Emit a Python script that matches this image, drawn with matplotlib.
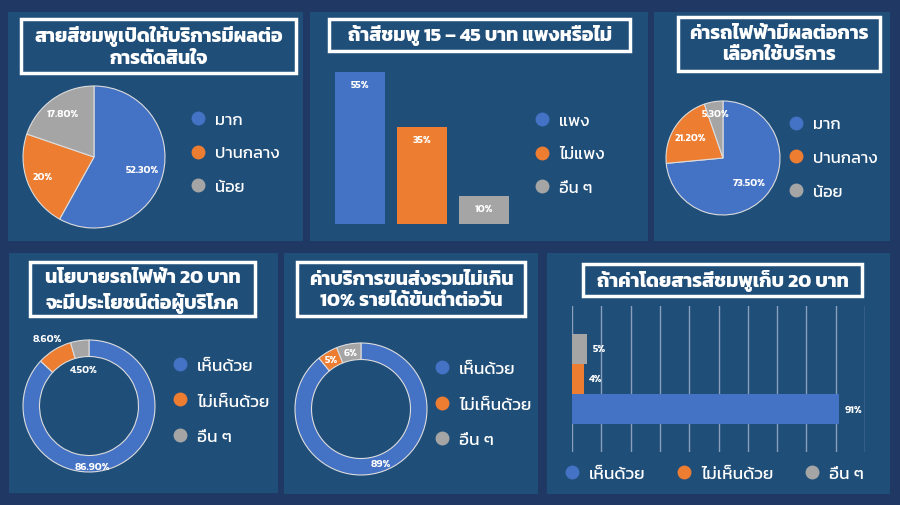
import matplotlib
matplotlib.use('Agg')
import matplotlib.pyplot as plt
from matplotlib.patches import Rectangle
from matplotlib.lines import Line2D

plt.rcParams['font.family'] = ['Kanit', 'Prompt', 'Bai Jamjuree', 'DejaVu Sans']

# --- data ---
level_labels = ['มาก', 'ปานกลาง', 'น้อย']
agree_labels = ['เห็นด้วย', 'ไม่เห็นด้วย', 'อื่น ๆ']
price_labels = ['แพง', 'ไม่แพง', 'อื่น ๆ']

pink_open_values = [52.3, 20, 17.8]
pink_open_text = ['52.30%', '20%', '17.80%']

pink_price_values = [55, 35, 10]
pink_price_text = ['55%', '35%', '10%']

fare_values = [73.5, 21.2, 5.3]
fare_text = ['73.50%', '21.20%', '5.30%']

policy_values = [86.9, 8.6, 4.5]
policy_text = ['86.90%', '8.60%', '4.50%']

transport_values = [89, 5, 6]
transport_text = ['89%', '5%', '6%']

fare20_values = [91, 4, 5]
fare20_text = ['91%', '4%', '5%']

titles = [
    'สายสีชมพูเปิดให้บริการมีผลต่อ\nการตัดสินใจ',
    'ถ้าสีชมพู 15 – 45 บาท แพงหรือไม่',
    'ค่ารถไฟฟ้ามีผลต่อการ\nเลือกใช้บริการ',
    'นโยบายรถไฟฟ้า 20 บาท\nจะมีประโยชน์ต่อผู้บริโภค',
    'ค่าบริการขนส่งรวมไม่เกิน\n10% รายได้ขั้นต่ำต่อวัน',
    'ถ้าค่าโดยสารสีชมพูเก็บ 20 บาท',
]

colors = ['#4472c4', '#ed7d31', '#a5a5a5']
outer_bg = '#203864'
panel_bg = '#1f4e79'

W, H = 900, 506
fig = plt.figure(figsize=(W / 100, H / 100), dpi=100, facecolor=outer_bg)


def fbox(x0, y0, x1, y1):
    """pixel box (top-left origin) -> figure fraction rect"""
    return [x0 / W, 1 - y1 / H, (x1 - x0) / W, (y1 - y0) / H]


def panel(x0, y0, x1, y1):
    fig.add_artist(Rectangle(fbox(x0, y0, x1, y1)[:2], (x1 - x0) / W, (y1 - y0) / H,
                             transform=fig.transFigure, facecolor=panel_bg,
                             edgecolor='none', zorder=-2))


def title_box(x0, y0, x1, y1, text, dy=0):
    fig.add_artist(Rectangle(fbox(x0, y0, x1, y1)[:2], (x1 - x0) / W, (y1 - y0) / H,
                             transform=fig.transFigure, facecolor='none',
                             edgecolor='white', lw=2.5, zorder=2))
    fig.text((x0 + x1) / 2 / W, 1 - ((y0 + y1) / 2 + dy) / H, text, ha='center',
             va='center', color='white', fontsize=14, fontweight='bold',
             linespacing=1.38, zorder=3)


def legend(ax, labels, mx, my, ncol=1, fs=12):
    handles = [Line2D([], [], ls='', marker='o', ms=9, color=c) for c in colors]
    hl = 1.0
    x = (mx - hl * fs * 100 / 72 / 2) / W
    ax.legend(handles, labels, loc='center left', bbox_to_anchor=(x, 1 - my / H),
              bbox_transform=fig.transFigure, frameon=False, fontsize=fs,
              handlelength=hl, handletextpad=0.5, labelspacing=1.15,
              borderpad=0, borderaxespad=0, numpoints=1, labelcolor='white',
              ncol=ncol, columnspacing=1.7)


def pie_axes(cx, cy, r):
    ax = fig.add_axes(fbox(cx - r, cy - r, cx + r, cy + r))
    ax.set_facecolor('none')
    return ax


def draw_pie(ax, values, texts, dists, width=None):
    wp = dict(edgecolor='#dcdcdc', linewidth=0.8)
    if width:
        wp['width'] = width
    wedges, _, autos = ax.pie(values, colors=colors, startangle=90,
                              counterclock=False, autopct='%1.1f',
                              pctdistance=1.0, wedgeprops=wp)
    for t, s, d in zip(autos, texts, dists):
        x, y = t.get_position()
        t.set_position((x * d, y * d))
        t.set_text(s)
        t.set_color('white')
        t.set_fontsize(7.5)
        t.set_fontweight('semibold')
    ax.set_xlim(-1, 1)
    ax.set_ylim(-1, 1)
    ax.set_aspect('equal')
    return autos


# panels
panel(8, 13, 303, 242)
panel(310, 13, 648, 242)
panel(654, 13, 890, 242)
panel(9, 254, 278, 494)
panel(284, 254, 538, 495)
panel(547, 254, 890, 495)

title_box(21, 20, 296, 74, titles[0])
title_box(329, 20, 630, 52, titles[1])
title_box(678, 18, 880, 72, titles[2])
title_box(30, 263, 255, 317, titles[3], dy=2)
title_box(297, 263, 525, 317, titles[4], dy=1)
title_box(583, 265, 862, 297, titles[5])

# 1. pie
ax1 = pie_axes(94, 158, 71)
draw_pie(ax1, pink_open_values, pink_open_text, [0.70, 0.78, 0.75])
legend(ax1, level_labels, 198, 154)

# 2. vertical bars
ax2 = fig.add_axes(fbox(328.7, 59, 515, 225))
ax2.set_facecolor('none')
bars = ax2.bar(range(len(pink_price_values)), pink_price_values, width=0.8,
               color=colors)
ax2.bar_label(bars, labels=pink_price_text, padding=-12, color='white',
              fontsize=7.5, fontweight='semibold')
ax2.set_xlim(-0.5, 2.5)
ax2.set_ylim(0, 60)
for s in ax2.spines.values():
    s.set_visible(False)
ax2.set_xticks([])
ax2.set_yticks([])
legend(ax2, price_labels, 542, 155)

# 3. pie
ax3 = pie_axes(723, 159, 57)
draw_pie(ax3, fare_values, fare_text, [0.63, 0.68, 0.79])
legend(ax3, level_labels, 796, 159)

# 4. donut (blue label sits near the bottom of the ring)
ax4 = pie_axes(89, 407, 66)
autos4 = draw_pie(ax4, policy_values, policy_text, [0.9, 1.2, 0.56], width=0.25)
autos4[0].set_position((0.05, -0.92))
legend(ax4, agree_labels, 180, 402, fs=12.5)

# 5. donut
ax5 = pie_axes(361, 410, 66)
draw_pie(ax5, transport_values, transport_text, [0.87, 0.87, 0.87], width=0.25)
legend(ax5, agree_labels, 442, 405, fs=12.5)

# 6. horizontal bars
ax6 = fig.add_axes(fbox(572, 307, 865, 453))
ax6.set_facecolor('none')
hb = ax6.barh(range(len(fare20_values)), fare20_values, height=1.0, color=colors)
ax6.bar_label(hb, labels=fare20_text, padding=4, color='white', fontsize=7.5,
              fontweight='semibold')
ax6.set_xlim(0, 100)
ax6.set_ylim(-1.43, 3.43)
ax6.set_xticks(range(0, 101, 10))
ax6.set_xticklabels([])
ax6.set_yticks([])
ax6.tick_params(length=0)
ax6.grid(axis='x', color='#8a9fba', lw=1)
ax6.set_axisbelow(True)
for s in ax6.spines.values():
    s.set_visible(False)
legend(ax6, agree_labels, 572, 474, ncol=3, fs=12.5)

fig.savefig('out.png', dpi=100, facecolor=outer_bg)
